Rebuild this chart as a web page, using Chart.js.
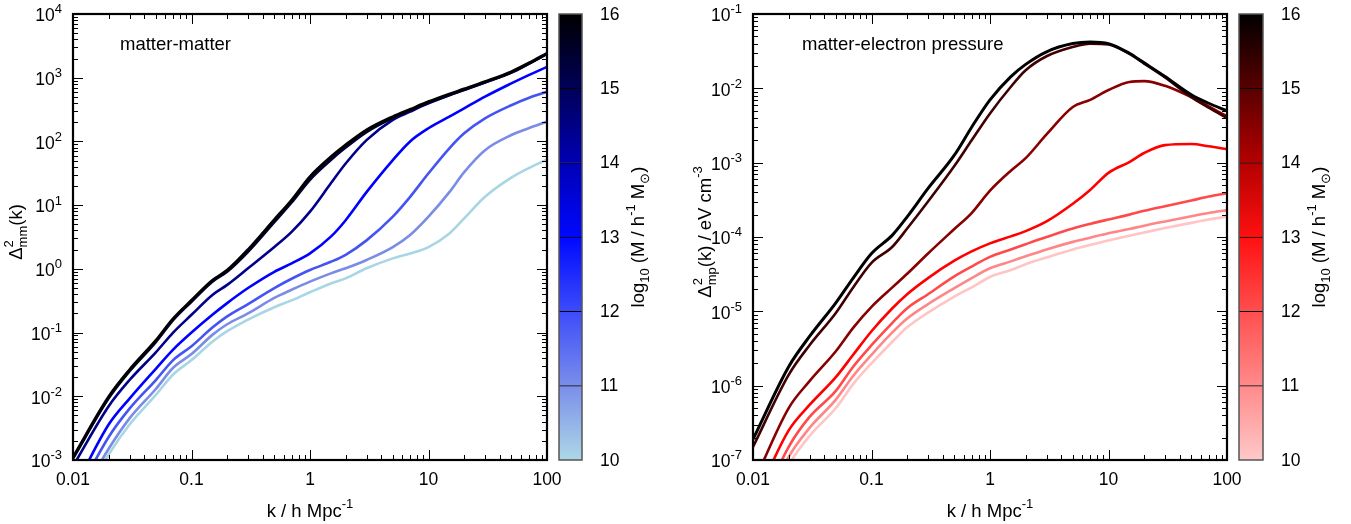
<!DOCTYPE html>
<html>
<head>
<meta charset="utf-8">
<script src="https://cdn.jsdelivr.net/npm/chart.js@4.4.0/dist/chart.umd.min.js"></script>
<style>
  body { margin: 0; background: #fff; }
  #wrap { position: relative; width: 1351px; height: 524px; overflow: hidden; }
  canvas { position: absolute; top: 0; }
</style>
</head>
<body>
<div id="wrap">
  <canvas id="mmChart" width="600" height="524" style="left:0"></canvas>
  <canvas id="mmBar" width="125" height="524" style="left:555px"></canvas>
  <canvas id="mpChart" width="600" height="524" style="left:680px"></canvas>
  <canvas id="mpBar" width="116" height="524" style="left:1235px"></canvas>
</div>
<script>
const FONT = "'Liberation Sans', Arial, Helvetica, sans-serif";
const TICK_SIZE = 17.5;
const TEXT_SIZE = 18.5;

// k / h Mpc^-1
const kValues = [0.01, 0.02, 0.03, 0.05, 0.07, 0.1, 0.15, 0.2, 0.3, 0.5, 0.7, 1, 1.5, 2, 3, 5, 7, 10, 15, 20, 30, 50, 70, 100];

// mass levels, log10(M / h^-1 Msun), drawn top first
const massLevels = [16, 15, 14, 13, 12, 11, 10];

// matter-matter
const mm16 = [1.1e-3, 0.0098, 0.026, 0.075, 0.165, 0.32, 0.66, 0.95, 2.0, 5.9, 12, 28, 57, 88, 151, 244, 318, 420, 554, 665, 865, 1240, 1690, 2420];
const mm15 = [1.05e-3, 0.0093, 0.0247, 0.071, 0.157, 0.305, 0.63, 0.9, 1.85, 5.4, 11, 25, 51, 80, 140, 232, 305, 405, 535, 645, 845, 1210, 1650, 2370];
const mm14 = [8e-4, 0.0070, 0.018, 0.049, 0.10, 0.19, 0.39, 0.56, 1.02, 2.2, 3.8, 7.9, 22, 45, 105, 218, 293, 395, 530, 640, 840, 1200, 1650, 2350];
const mm13 = [3.2e-4, 0.0036, 0.0092, 0.027, 0.054, 0.10, 0.19, 0.29, 0.50, 0.90, 1.22, 1.75, 3.2, 5.8, 16, 51, 100, 161, 245, 330, 505, 815, 1100, 1480];
const mm12 = [2.2e-4, 0.0023, 0.0064, 0.018, 0.037, 0.061, 0.12, 0.18, 0.28, 0.50, 0.70, 0.96, 1.29, 1.66, 2.8, 6.6, 13.5, 31.6, 78, 134, 230, 370, 480, 600];
const mm11 = [1.6e-4, 0.0015, 0.0045, 0.013, 0.028, 0.046, 0.092, 0.135, 0.20, 0.35, 0.47, 0.63, 0.85, 1.02, 1.38, 2.2, 3.4, 6.6, 16, 33, 73, 126, 161, 205];
const mm10 = [1.3e-4, 0.00122, 0.0036, 0.0105, 0.022, 0.037, 0.072, 0.105, 0.16, 0.25, 0.32, 0.43, 0.59, 0.71, 1.02, 1.46, 1.74, 2.2, 3.6, 6.2, 13.5, 27, 38, 52];

// matter-electron pressure
const mp16 = [1.9e-7, 1.8e-6, 4.6e-6, 1.3e-5, 2.8e-5, 6.0e-5, 1.06e-4, 1.87e-4, 4.5e-4, 1.26e-3, 3.0e-3, 7.0e-3, 0.0144, 0.021, 0.031, 0.040, 0.042, 0.040, 0.0296, 0.022, 0.0144, 0.0082, 0.0063, 0.0050];
const mp15 = [1.5e-7, 1.4e-6, 3.5e-6, 9.5e-6, 2.1e-5, 4.5e-5, 7.4e-5, 1.3e-4, 3.0e-4, 9.0e-4, 2.0e-3, 4.6e-3, 0.0105, 0.0175, 0.027, 0.036, 0.040, 0.039, 0.029, 0.0215, 0.014, 0.0076, 0.0055, 0.0040];
const mp14 = [4.7e-8, 5.0e-7, 1.15e-6, 2.9e-6, 6.0e-6, 1.15e-5, 2.1e-5, 3.2e-5, 6.0e-5, 1.28e-4, 2.1e-4, 4.2e-4, 7.8e-4, 1.15e-3, 2.4e-3, 5.6e-3, 7.0e-3, 9.5e-3, 0.0122, 0.0125, 0.0108, 0.0076, 0.0057, 0.0042];
const mp13 = [2.5e-8, 2.5e-7, 5.5e-7, 1.3e-6, 2.6e-6, 5.4e-6, 1.1e-5, 1.7e-5, 2.8e-5, 4.8e-5, 6.4e-5, 8.2e-5, 1.02e-4, 1.2e-4, 1.62e-4, 2.8e-4, 4.3e-4, 7.3e-4, 1.02e-3, 1.35e-3, 1.72e-3, 1.78e-3, 1.66e-3, 1.52e-3];
const mp12 = [1.4e-8, 1.5e-7, 3.8e-7, 8.5e-7, 1.8e-6, 3.5e-6, 7.0e-6, 1.1e-5, 1.7e-5, 2.95e-5, 4.0e-5, 5.4e-5, 6.8e-5, 8.0e-5, 1.0e-4, 1.3e-4, 1.5e-4, 1.72e-4, 2.0e-4, 2.25e-4, 2.6e-4, 3.1e-4, 3.5e-4, 3.9e-4];
const mp11 = [1.0e-8, 1.1e-7, 2.7e-7, 6.5e-7, 1.35e-6, 2.6e-6, 5.2e-6, 8.0e-6, 1.25e-5, 2.05e-5, 2.8e-5, 3.8e-5, 4.7e-5, 5.5e-5, 6.8e-5, 8.6e-5, 9.8e-5, 1.12e-4, 1.28e-4, 1.42e-4, 1.62e-4, 1.9e-4, 2.1e-4, 2.3e-4];
const mp10 = [7e-9, 8.5e-8, 2.1e-7, 5.0e-7, 1.05e-6, 2.0e-6, 3.9e-6, 6.1e-6, 9.6e-6, 1.58e-5, 2.1e-5, 2.9e-5, 3.6e-5, 4.3e-5, 5.3e-5, 6.8e-5, 7.8e-5, 9.0e-5, 1.04e-4, 1.15e-4, 1.32e-4, 1.55e-4, 1.72e-4, 1.87e-4];

// tick labels
const xTickLabels = ['0.01', '0.1', '1', '10', '100'];
const xExponents = [-2, -1, 0, 1, 2];
const mmExponents = [-3, -2, -1, 0, 1, 2, 3, 4];
const mpExponents = [-7, -6, -5, -4, -3, -2, -1];
const cbTicks = [10, 11, 12, 13, 14, 15, 16];

// colours, same order as massLevels
const blueLines = ['#000000', '#000038', '#00008a', '#0000ff', '#4454f2', '#7a8ce6', '#a8d6e4'];
const redLines = ['#000000', '#400000', '#880000', '#ff0000', '#ff4a4a', '#ff8686', '#ffc4c4'];
// colour bar stops at 10, 11, ... 16
const blueStops = ['#add8e6', '#7a8eea', '#3c4cfa', '#0008ff', '#0000b4', '#000058', '#000000'];
const redStops = ['#ffc8c8', '#ff8a8a', '#ff4e4e', '#ff1010', '#b40000', '#580000', '#000000'];

// draws a string made of normal / sup / sub pieces, centred on (x, y)
function richText(ctx, parts, x, y, size, rotate, align) {
  const small = Math.round(size * 0.72);
  ctx.save();
  ctx.translate(x, y);
  if (rotate) ctx.rotate(-Math.PI / 2);
  ctx.fillStyle = '#000';
  ctx.textAlign = 'left';
  ctx.textBaseline = 'alphabetic';
  const widthOf = (p) => {
    if (p.stack) {
      ctx.font = small + 'px ' + FONT;
      return Math.max(ctx.measureText(p.stack[0]).width, ctx.measureText(p.stack[1]).width);
    }
    ctx.font = (p.k ? small : size) + 'px ' + FONT;
    return ctx.measureText(p.t).width;
  };
  const total = parts.reduce((s, p) => s + widthOf(p), 0);
  let cx = align === 'right' ? -total : -total / 2;
  const base = size * 0.36;
  parts.forEach(p => {
    const w = widthOf(p);
    if (p.stack) {
      ctx.font = small + 'px ' + FONT;
      ctx.fillText(p.stack[0], cx, base - size * 0.45);
      ctx.fillText(p.stack[1], cx, base + size * 0.3);
    } else {
      ctx.font = (p.k ? small : size) + 'px ' + FONT;
      let by = base;
      if (p.k === 'sup') by = base - size * 0.45;
      if (p.k === 'sub') by = base + size * 0.3;
      ctx.fillText(p.t, cx, by);
    }
    cx += w;
  });
  ctx.restore();
}

function logTicks(minE, maxE) {
  const out = [];
  for (let e = minE; e <= maxE; e++) {
    out.push({ v: Math.pow(10, e), major: true });
    if (e < maxE) for (let m = 2; m <= 9; m++) out.push({ v: m * Math.pow(10, e), major: false });
  }
  return out;
}

function makeFrame(cfg) {
  return {
    id: 'frame',
    afterDatasetsDraw(chart) {
      const { ctx, chartArea: a } = chart;
      const xs = chart.scales.x, ys = chart.scales.y;
      ctx.save();
      ctx.strokeStyle = '#000';
      ctx.lineWidth = 1;
      ctx.beginPath();
      logTicks(xExponents[0], xExponents[xExponents.length - 1]).forEach(t => {
        const px = Math.round(xs.getPixelForValue(t.v)) + 0.5;
        const len = t.major ? 10 : 5;
        ctx.moveTo(px, a.bottom); ctx.lineTo(px, a.bottom - len);
        ctx.moveTo(px, a.top); ctx.lineTo(px, a.top + len);
      });
      logTicks(cfg.yExps[0], cfg.yExps[cfg.yExps.length - 1]).forEach(t => {
        const py = Math.round(ys.getPixelForValue(t.v)) + 0.5;
        const len = t.major ? 10 : 5;
        ctx.moveTo(a.left, py); ctx.lineTo(a.left + len, py);
        ctx.moveTo(a.right, py); ctx.lineTo(a.right - len, py);
      });
      ctx.stroke();
      ctx.lineWidth = 2.2;
      ctx.strokeRect(a.left, a.top, a.right - a.left, a.bottom - a.top);

      ctx.fillStyle = '#000';
      ctx.font = TICK_SIZE + 'px ' + FONT;
      ctx.textAlign = 'center';
      ctx.textBaseline = 'middle';
      xExponents.forEach((e, i) => {
        ctx.fillText(xTickLabels[i], xs.getPixelForValue(Math.pow(10, e)), a.bottom + 20);
      });
      cfg.yExps.forEach(e => {
        richText(ctx, [{ t: '10' }, { t: String(e), k: 'sup' }], a.left - 11, ys.getPixelForValue(Math.pow(10, e)) + 1, TICK_SIZE, false, 'right');
      });
      richText(ctx, [{ t: 'k / h Mpc' }, { t: '-1', k: 'sup' }], (a.left + a.right) / 2, a.bottom + 50, TEXT_SIZE, false);
      richText(ctx, cfg.yTitle, cfg.yTitleX, cfg.yTitleY, TEXT_SIZE, true);
      ctx.font = TEXT_SIZE + 'px ' + FONT;
      ctx.textAlign = 'left';
      ctx.textBaseline = 'middle';
      ctx.fillText(cfg.note, cfg.noteX, 45);
      ctx.restore();
    }
  };
}

function lineChart(id, series, colours, yMin, yMax, frameCfg) {
  return new Chart(document.getElementById(id), {
    type: 'line',
    data: {
      datasets: series.map((s, i) => ({
        label: String(massLevels[i]),
        data: kValues.map((k, j) => ({ x: k, y: s[j] })),
        borderColor: colours[i],
        borderWidth: i === 0 ? 3 : 2.6,
        pointRadius: 0,
        fill: false,
        cubicInterpolationMode: 'monotone'
      }))
    },
    options: {
      responsive: false,
      animation: false,
      layout: { padding: { left: 73, right: 53, top: 14, bottom: 64 } },
      plugins: { legend: { display: false }, tooltip: { enabled: false } },
      scales: {
        x: { type: 'logarithmic', min: 0.01, max: 100, display: false },
        y: { type: 'logarithmic', min: yMin, max: yMax, display: false }
      }
    },
    plugins: [makeFrame(frameCfg)]
  });
}

function colourBar(id, stops, titleX, axisWidth) {
  const grad = (c) => {
    const a = c.chart.chartArea;
    if (!a) return stops[0];
    const g = c.chart.ctx.createLinearGradient(0, a.bottom, 0, a.top);
    stops.forEach((s, i) => g.addColorStop(i / (stops.length - 1), s));
    return g;
  };
  const cbFrame = {
    id: 'cbFrame',
    afterDatasetsDraw(chart) {
      const { ctx, chartArea: a } = chart;
      const ys = chart.scales.y;
      ctx.save();
      ctx.strokeStyle = '#555';
      ctx.lineWidth = 1.5;
      ctx.strokeRect(a.left, a.top, a.right - a.left, a.bottom - a.top);
      ctx.fillStyle = '#000';
      ctx.font = TICK_SIZE + 'px ' + FONT;
      ctx.textAlign = 'left';
      ctx.textBaseline = 'middle';
      cbTicks.forEach(v => ctx.fillText(String(v), a.right + 18, ys.getPixelForValue(v) + 1));
      richText(ctx, [{ t: 'log' }, { t: '10', k: 'sub' }, { t: ' (M / h' }, { t: '-1', k: 'sup' }, { t: ' M' }, { t: '\u2299', k: 'sub' }, { t: ')' }],
        titleX, (a.top + a.bottom) / 2, TEXT_SIZE, true);
      ctx.restore();
    }
  };
  return new Chart(document.getElementById(id), {
    type: 'bar',
    data: {
      labels: [''],
      datasets: cbTicks.slice(0, -1).map(v => ({
        data: [[v, v + 1]],
        backgroundColor: grad,
        borderColor: '#000',
        borderWidth: { top: 1, bottom: 0, left: 0, right: 0 },
        borderSkipped: false,
        barPercentage: 1,
        categoryPercentage: 1,
        grouped: false
      }))
    },
    options: {
      responsive: false,
      animation: false,
      layout: { padding: { left: 4, right: axisWidth, top: 14, bottom: 64 } },
      plugins: { legend: { display: false }, tooltip: { enabled: false } },
      scales: {
        x: { display: false },
        y: { min: 10, max: 16, display: false }
      }
    },
    plugins: [cbFrame]
  });
}

lineChart('mmChart', [mm16, mm15, mm14, mm13, mm12, mm11, mm10], blueLines, 1e-3, 1e4, {
  yExps: mmExponents,
  yTitle: [{ t: '\u0394' }, { stack: ['2', 'mm'] }, { t: '(k)' }],
  yTitleX: 15, yTitleY: 232,
  note: 'matter-matter', noteX: 120
});
colourBar('mmBar', blueStops, 82, 98);

lineChart('mpChart', [mp16, mp15, mp14, mp13, mp12, mp11, mp10], redLines, 1e-7, 1e-1, {
  yExps: mpExponents,
  yTitle: [{ t: '\u0394' }, { stack: ['2', 'mp'] }, { t: '(k) / eV cm' }, { t: '-3', k: 'sup' }],
  yTitleX: 24, yTitleY: 232,
  note: 'matter-electron pressure', noteX: 122
});
colourBar('mpBar', redStops, 83, 88);
</script>
</body>
</html>
